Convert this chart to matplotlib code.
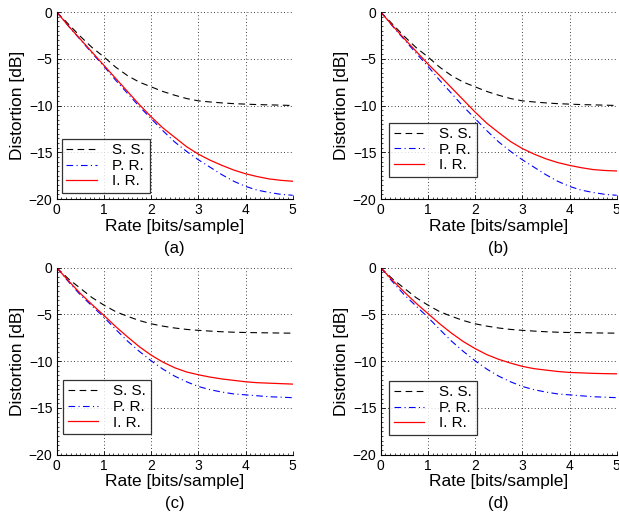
import numpy as np
import matplotlib
matplotlib.use("Agg")
import matplotlib.pyplot as plt
from matplotlib.ticker import MultipleLocator

plt.rcParams['font.family'] = ['Liberation Sans', 'DejaVu Sans']

# rate axis, bits/sample
rate = [0, 0.25, 0.5, 0.75, 1, 1.25, 1.5, 1.75, 2, 2.25, 2.5,
        2.75, 3, 3.25, 3.5, 3.75, 4, 4.25, 4.5, 4.75, 5]

# distortion [dB]
ss_ab = [0, -1.3, -2.6, -3.8, -4.8, -5.9, -6.8, -7.5, -8.0, -8.5, -8.9,
         -9.25, -9.5, -9.62, -9.72, -9.8, -9.85, -9.9, -9.93, -9.96, -10.0]
pr_ab = [0, -1.5, -2.95, -4.4, -5.8, -7.3, -8.7, -10.1, -11.4, -12.7, -13.9,
         -14.9, -15.8, -16.6, -17.4, -18.1, -18.65, -19.05, -19.3, -19.5, -19.6]
ir_a = [0, -1.5, -2.9, -4.3, -5.7, -7.1, -8.5, -9.9, -11.2, -12.4, -13.4,
        -14.4, -15.2, -15.85, -16.4, -16.9, -17.3, -17.6, -17.85, -18.0, -18.1]
ir_b = [0, -1.45, -2.85, -4.2, -5.55, -6.8, -8.1, -9.4, -10.7, -11.9, -12.9,
        -13.85, -14.6, -15.2, -15.7, -16.1, -16.4, -16.65, -16.85, -16.95, -17.0]

ss_cd = [0, -1.2, -2.2, -3.2, -4.0, -4.7, -5.2, -5.65, -6.0, -6.25, -6.45,
         -6.6, -6.7, -6.78, -6.85, -6.9, -6.93, -6.95, -6.97, -6.99, -7.0]
pr_cd = [0, -1.5, -2.9, -4.1, -5.3, -6.6, -7.85, -8.95, -9.95, -10.85, -11.6,
         -12.2, -12.7, -13.05, -13.3, -13.5, -13.6, -13.7, -13.8, -13.85, -13.9]
ir_c = [0, -1.4, -2.75, -3.95, -5.1, -6.3, -7.4, -8.45, -9.35, -10.1, -10.7,
        -11.15, -11.45, -11.7, -11.9, -12.05, -12.2, -12.3, -12.35, -12.4, -12.45]
ir_d = [0, -1.35, -2.6, -3.8, -4.9, -6.0, -7.0, -7.9, -8.65, -9.3, -9.8,
        -10.2, -10.55, -10.8, -10.95, -11.1, -11.2, -11.25, -11.3, -11.33, -11.35]

labels = ["S. S.", "P. R.", "I. R."]
panel_names = ["(a)", "(b)", "(c)", "(d)"]


def draw_panel(ax, ss, pr, ir, name, leg_pos):
    ax.plot(rate, ss, color='black', linestyle=(0, (6, 4)), lw=0.8, label=labels[0])
    ax.plot(rate, pr, color='blue', linestyle=(0, (6, 3, 1, 3)), lw=0.8, label=labels[1])
    ax.plot(rate, ir, color='red', linestyle='-', lw=0.9, label=labels[2])

    ax.set_xlim(0, 5)
    ax.set_ylim(-20, 0)
    ax.set_xticks([0, 1, 2, 3, 4, 5])
    ax.set_yticks([-20, -15, -10, -5, 0])
    ax.xaxis.set_minor_locator(MultipleLocator(0.1))
    ax.yaxis.set_minor_locator(MultipleLocator(0.5))
    ax.tick_params(which='major', direction='in', length=3, width=0.6, labelsize=10, pad=3)
    ax.tick_params(which='minor', direction='in', length=1.5, width=0.5)
    ax.grid(True, which='major', color='black', linestyle=(0, (1, 3)), lw=0.6)
    for side in ['top', 'right']:
        ax.spines[side].set_visible(False)
    for side in ['left', 'bottom']:
        ax.spines[side].set_linewidth(0.8)

    ax.set_xlabel('Rate [bits/sample]', fontsize=12.5, labelpad=1)
    ax.set_ylabel('Distortion [dB]', fontsize=12.5, labelpad=3)
    ax.text(0.5, -0.262, name, transform=ax.transAxes, ha='center', va='center', fontsize=12)

    leg = ax.legend(loc='lower left', bbox_to_anchor=leg_pos, fontsize=11,
                    frameon=True, fancybox=False, edgecolor='black',
                    handlelength=2.0, handletextpad=1.0, labelspacing=0.1,
                    borderpad=0.3, borderaxespad=0)
    leg.get_frame().set_linewidth(0.9)


fig = plt.figure(figsize=(6.19, 5.16), dpi=100)
w, h = 0.3813, 0.3624
ax_a = fig.add_axes([0.0916, 0.6143, w, h])
ax_b = fig.add_axes([0.6150, 0.6143, w, h])
ax_c = fig.add_axes([0.0916, 0.1188, w, h])
ax_d = fig.add_axes([0.6150, 0.1188, w, h])

draw_panel(ax_a, ss_ab, pr_ab, ir_a, panel_names[0], (0.022, 0.032))
draw_panel(ax_b, ss_ab, pr_ab, ir_b, panel_names[1], (0.035, 0.118))
draw_panel(ax_c, ss_cd, pr_cd, ir_c, panel_names[2], (0.027, 0.11))
draw_panel(ax_d, ss_cd, pr_cd, ir_d, panel_names[3], (0.035, 0.105))

fig.savefig('out.png', dpi=100)
